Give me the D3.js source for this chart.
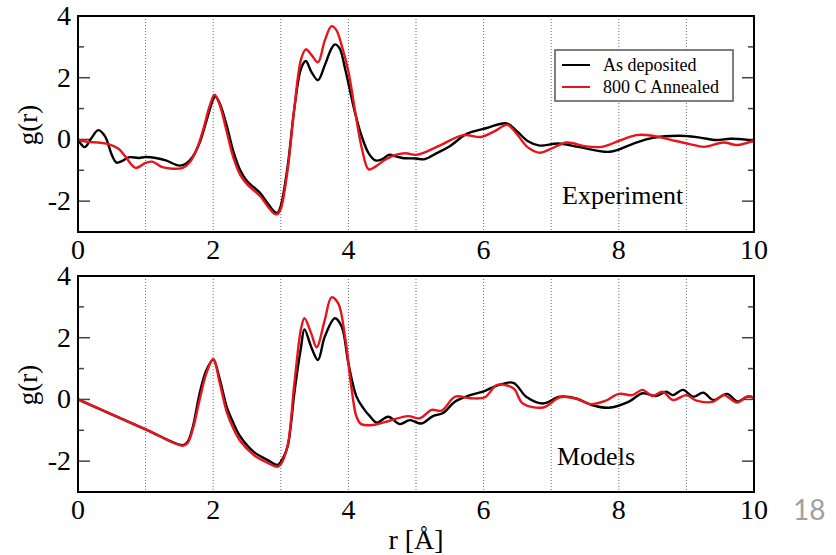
<!DOCTYPE html>
<html>
<head>
<meta charset="utf-8">
<script src="https://cdn.jsdelivr.net/npm/d3@7"></script>
<style>
  body { margin: 0; background: #fff; }
  svg { display: block; }
</style>
</head>
<body>
<svg id="chart" width="836" height="555"></svg>
<script>
// g(r), [r, g]
var expDeposited = [[0,0],[0.1,-0.25],[0.2,0.05],[0.3,0.3],[0.4,0.1],[0.5,-0.5],[0.57,-0.75],[0.65,-0.7],[0.75,-0.58],[0.9,-0.6],[1.0,-0.57],[1.15,-0.6],[1.3,-0.68],[1.5,-0.85],[1.6,-0.78],[1.7,-0.55],[1.8,-0.1],[1.9,0.6],[2.0,1.3],[2.03,1.4],[2.1,1.15],[2.2,0.45],[2.3,-0.4],[2.4,-1.0],[2.5,-1.35],[2.6,-1.55],[2.7,-1.75],[2.8,-2.05],[2.9,-2.33],[2.95,-2.38],[3.0,-2.15],[3.1,-0.9],[3.2,1.0],[3.3,2.3],[3.37,2.54],[3.45,2.2],[3.55,1.92],[3.65,2.4],[3.75,2.95],[3.8,3.08],[3.87,2.95],[3.95,2.3],[4.0,1.82],[4.1,0.85],[4.2,0.08],[4.3,-0.45],[4.4,-0.68],[4.5,-0.64],[4.6,-0.5],[4.7,-0.55],[4.8,-0.6],[5.0,-0.62],[5.13,-0.64],[5.3,-0.45],[5.5,-0.22],[5.75,0.18],[6.05,0.37],[6.34,0.52],[6.5,0.25],[6.65,-0.05],[6.83,-0.2],[7.1,-0.13],[7.4,-0.24],[7.87,-0.4],[8.2,-0.15],[8.5,0.05],[8.9,0.12],[9.2,0.06],[9.44,-0.02],[9.65,0.02],[9.85,0.0],[10,-0.07]];
var expAnnealed = [[0,-0.02],[0.15,-0.08],[0.3,-0.1],[0.45,-0.15],[0.6,-0.3],[0.7,-0.55],[0.85,-0.92],[1.0,-0.76],[1.1,-0.72],[1.25,-0.9],[1.4,-0.95],[1.55,-0.92],[1.65,-0.75],[1.75,-0.35],[1.85,0.3],[1.95,1.1],[2.02,1.45],[2.1,1.1],[2.2,0.25],[2.3,-0.6],[2.4,-1.15],[2.5,-1.45],[2.6,-1.65],[2.7,-1.85],[2.8,-2.15],[2.9,-2.4],[2.95,-2.42],[3.0,-2.25],[3.1,-1.0],[3.2,1.0],[3.3,2.6],[3.37,2.92],[3.45,2.75],[3.55,2.5],[3.65,3.2],[3.75,3.67],[3.82,3.55],[3.9,3.05],[4.0,2.2],[4.1,0.9],[4.2,-0.3],[4.3,-0.97],[4.4,-0.88],[4.55,-0.65],[4.7,-0.5],[4.85,-0.45],[5.0,-0.5],[5.15,-0.4],[5.35,-0.2],[5.7,0.14],[5.96,0.08],[6.15,0.25],[6.35,0.47],[6.5,0.15],[6.65,-0.25],[6.83,-0.43],[7.0,-0.3],[7.23,-0.1],[7.5,-0.22],[7.75,-0.24],[8.0,-0.05],[8.26,0.14],[8.5,0.12],[8.8,-0.03],[9.05,-0.15],[9.26,-0.24],[9.55,-0.1],[9.75,-0.18],[10,-0.04]];
var modDeposited = [[0,0],[1.0,-0.97],[1.55,-1.48],[1.62,-1.38],[1.7,-0.88],[1.8,0.2],[1.9,0.95],[2.0,1.28],[2.1,0.63],[2.2,-0.24],[2.3,-0.77],[2.4,-1.2],[2.6,-1.7],[2.8,-1.96],[2.95,-2.12],[3.0,-2.02],[3.1,-1.53],[3.15,-0.8],[3.2,0.2],[3.3,1.7],[3.35,2.27],[3.45,1.7],[3.55,1.28],[3.65,2.03],[3.8,2.63],[3.9,2.36],[4.0,1.17],[4.12,0.09],[4.22,-0.28],[4.32,-0.55],[4.42,-0.75],[4.59,-0.56],[4.76,-0.8],[4.91,-0.67],[5.08,-0.78],[5.25,-0.54],[5.4,-0.44],[5.58,-0.07],[5.8,0.14],[5.99,0.25],[6.2,0.45],[6.44,0.54],[6.63,0.09],[6.88,-0.13],[7.13,0.09],[7.37,0.03],[7.6,-0.18],[7.85,-0.27],[8.15,-0.07],[8.35,0.2],[8.55,0.11],[8.7,0.25],[8.8,0.14],[8.95,0.31],[9.1,0.09],[9.25,0.22],[9.4,-0.02],[9.6,0.18],[9.76,-0.07],[9.9,0.09],[10,0.06]];
var modAnnealed = [[0,0],[1.0,-0.97],[1.55,-1.5],[1.62,-1.42],[1.7,-0.95],[1.8,0.0],[1.9,0.85],[2.0,1.31],[2.1,0.5],[2.2,-0.4],[2.3,-0.95],[2.4,-1.35],[2.6,-1.8],[2.8,-2.05],[2.95,-2.18],[3.0,-2.1],[3.1,-1.5],[3.2,0.5],[3.3,2.3],[3.35,2.63],[3.45,2.14],[3.53,1.69],[3.65,2.57],[3.75,3.31],[3.85,3.11],[3.95,2.03],[4.05,0.3],[4.12,-0.56],[4.19,-0.8],[4.36,-0.83],[4.61,-0.69],[4.88,-0.54],[5.06,-0.61],[5.23,-0.34],[5.38,-0.36],[5.58,0.09],[5.8,0.04],[6.02,0.07],[6.2,0.47],[6.44,0.36],[6.58,-0.13],[6.88,-0.26],[7.13,0.07],[7.37,0.03],[7.57,-0.15],[7.8,-0.05],[8.0,0.18],[8.2,0.14],[8.35,0.31],[8.5,0.11],[8.65,0.25],[8.8,-0.02],[9.0,0.14],[9.15,-0.04],[9.4,-0.07],[9.55,0.14],[9.75,-0.1],[9.9,0.09],[10,0.06]];

var xTicks = [0, 2, 4, 6, 8, 10];
var yTicks = [-2, 0, 2, 4];
var yMinor = [-3, -2, -1, 0, 1, 2, 3, 4];
var gridR = [1, 2, 3, 4, 5, 6, 7, 8, 9];
var seriesNames = ["As deposited", "800 C Annealed"];
var seriesColors = ["#000000", "#e8141b"];

var serif = "'Liberation Serif', 'Times New Roman', serif";
var svg = d3.select("#chart");

var x = d3.scaleLinear().domain([0, 10]).range([78, 754]);

function drawPanel(top, label, labelX, labelY, data, withLegend, idx) {
  var y = d3.scaleLinear().domain([-3, 4]).range([top + 216, top]);
  var g = svg.append("g");

  g.append("clipPath").attr("id", "clip" + idx)
    .append("rect").attr("x", 78).attr("y", top).attr("width", 676).attr("height", 216);

  // dotted verticals
  g.selectAll(".grid").data(gridR).enter().append("line")
    .attr("x1", function(d){ return x(d); }).attr("x2", function(d){ return x(d); })
    .attr("y1", top).attr("y2", top + 216)
    .attr("stroke", "#666").attr("stroke-width", 1).attr("stroke-dasharray", "1,2");

  // inward ticks on both sides
  yMinor.forEach(function(v){
    var len = (v % 2 === 0) ? 12 : 6;
    g.append("line").attr("x1", 78).attr("x2", 78 + len)
      .attr("y1", y(v)).attr("y2", y(v)).attr("stroke", "#444").attr("stroke-width", 1.5);
    g.append("line").attr("x1", 754).attr("x2", 754 - len)
      .attr("y1", y(v)).attr("y2", y(v)).attr("stroke", "#444").attr("stroke-width", 1.5);
  });

  var line = d3.line()
    .x(function(d){ return x(d[0]); })
    .y(function(d){ return y(d[1]); })
    .curve(d3.curveCatmullRom.alpha(0.5));

  data.forEach(function(s, i){
    g.append("path").datum(s)
      .attr("d", line)
      .attr("fill", "none")
      .attr("stroke", seriesColors[i])
      .attr("stroke-width", 2.4)
      .attr("stroke-linejoin", "round")
      .attr("clip-path", "url(#clip" + idx + ")");
  });

  g.append("rect").attr("x", 78).attr("y", top).attr("width", 676).attr("height", 216)
    .attr("fill", "none").attr("stroke", "#000").attr("stroke-width", 2);

  // y tick labels
  g.selectAll(".yl").data(yTicks).enter().append("text")
    .attr("x", 71).attr("y", function(d){ return y(d) + 9; })
    .attr("text-anchor", "end")
    .style("font-family", serif).style("font-size", "28px")
    .text(function(d){ return d; });

  // x tick labels
  g.selectAll(".xl").data(xTicks).enter().append("text")
    .attr("x", function(d){ return x(d); }).attr("y", top + 243)
    .attr("text-anchor", "middle")
    .style("font-family", serif).style("font-size", "28px")
    .text(function(d){ return d; });

  // y axis title
  g.append("text")
    .attr("transform", "translate(37," + (top + 109) + ") rotate(-90)")
    .attr("text-anchor", "middle")
    .style("font-family", serif).style("font-size", "27px")
    .text("g(r)");

  g.append("text").attr("x", labelX).attr("y", labelY)
    .style("font-family", serif).style("font-size", "26px")
    .text(label);

  if (withLegend) {
    var lg = g.append("g");
    lg.append("rect").attr("x", 555).attr("y", 50).attr("width", 178).attr("height", 51)
      .attr("fill", "#fff").attr("stroke", "#555").attr("stroke-width", 1.5);
    seriesNames.forEach(function(n, i){
      var ly = 65 + i * 22;
      lg.append("line").attr("x1", 562).attr("x2", 590).attr("y1", ly).attr("y2", ly)
        .attr("stroke", seriesColors[i]).attr("stroke-width", 2);
      lg.append("text").attr("x", 603).attr("y", ly + 6)
        .style("font-family", serif).style("font-size", "18px")
        .text(n);
    });
  }
}

drawPanel(16, "Experiment", 562, 204, [expDeposited, expAnnealed], true, 0);
drawPanel(276, "Models", 557, 465, [modDeposited, modAnnealed], false, 1);

svg.append("text").attr("x", 416).attr("y", 549)
  .attr("text-anchor", "middle")
  .style("font-family", serif).style("font-size", "28px")
  .text("r [Å]");

svg.append("text").attr("x", 793).attr("y", 520)
  .style("font-family", "Lato, 'Open Sans', sans-serif").style("font-size", "28px")
  .style("fill", "#a0a0a0")
  .text("18");
</script>
</body>
</html>
